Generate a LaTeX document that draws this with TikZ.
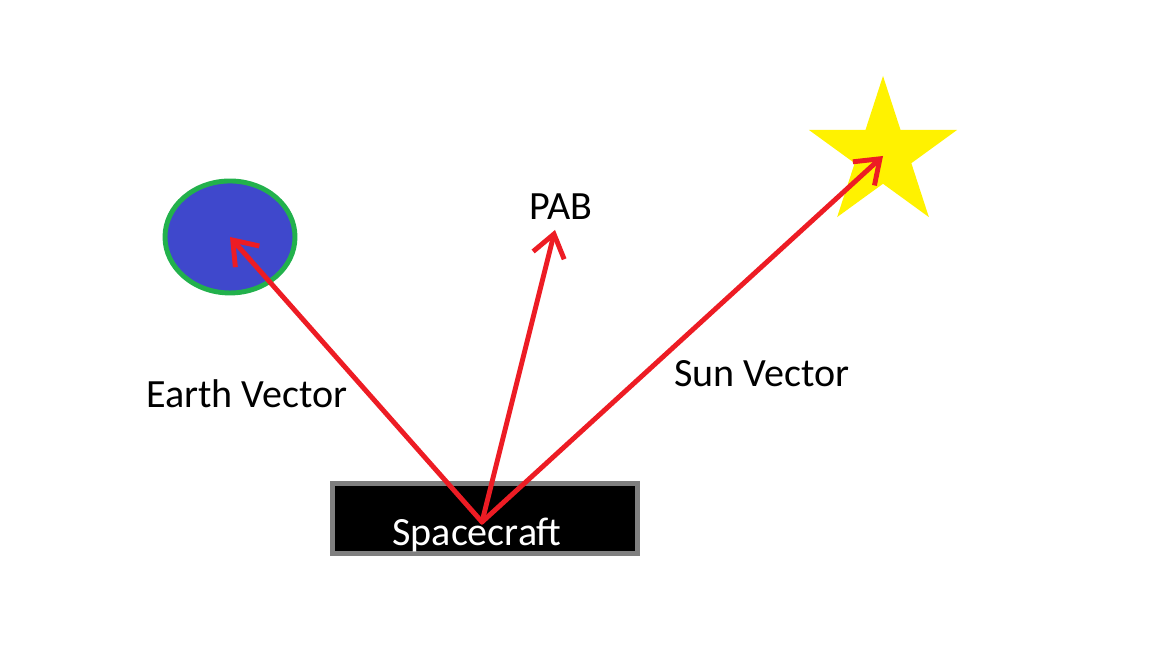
\documentclass[tikz,border=0pt]{standalone}
\usepackage{fontspec}
\setmainfont{Carlito}
\usepackage{tikz}
\usetikzlibrary{arrows.meta}
\usetikzlibrary{shapes.geometric}
\usetikzlibrary{calc,positioning}

\definecolor{vecred}{HTML}{ED1C24}
\definecolor{earthblue}{HTML}{3F48CC}
\definecolor{earthgreen}{HTML}{22B14C}
\definecolor{sunyellow}{HTML}{FFF200}
\definecolor{boxgray}{HTML}{7F7F7F}

\begin{document}
\begin{tikzpicture}[>={Straight Barb[length=2.2mm,width=3.2mm]},
    every node/.style={font=\fontsize{11.4}{13}\selectfont},
    vec/.style={->, draw=vecred, line width=1.4pt, line cap=round, line join=round}]

    \useasboundingbox (0,0) rectangle (11.52,6.48);

    \node[ellipse, draw=earthgreen, fill=earthblue, line width=1.4pt,
          minimum width=1.30cm, minimum height=1.12cm, inner sep=0] (earth) at (2.30,4.11) {};
    \node[star, star points=5, star point ratio=2.618, fill=sunyellow,
          minimum size=1.56cm, inner sep=0] (sun) at (8.83,4.94) {};

    \node[rectangle, draw=boxgray, fill=black, line width=1.4pt,
          minimum width=3.05cm, minimum height=0.70cm, inner sep=0] (craft) at (4.85,1.295) {};
    \node[text=white] (craftlabel) at (4.77,1.13) {Spacecraft};

    \node (pab) at (5.61,4.41) {PAB};
    \node (earthlabel) at (2.47,2.54) {Earth Vector};
    \node (sunlabel) at (7.62,2.74) {Sun Vector};

    \coordinate (base) at (4.82,1.26);
    \coordinate (pabtip) at (5.55,4.18);

    \draw[vec] (base) -- (earth.center);
    \draw[vec] (base) -- (pabtip);
    \draw[vec] (base) -- ($(sun.center)+(0,-0.02)$);

\end{tikzpicture}
\end{document}
